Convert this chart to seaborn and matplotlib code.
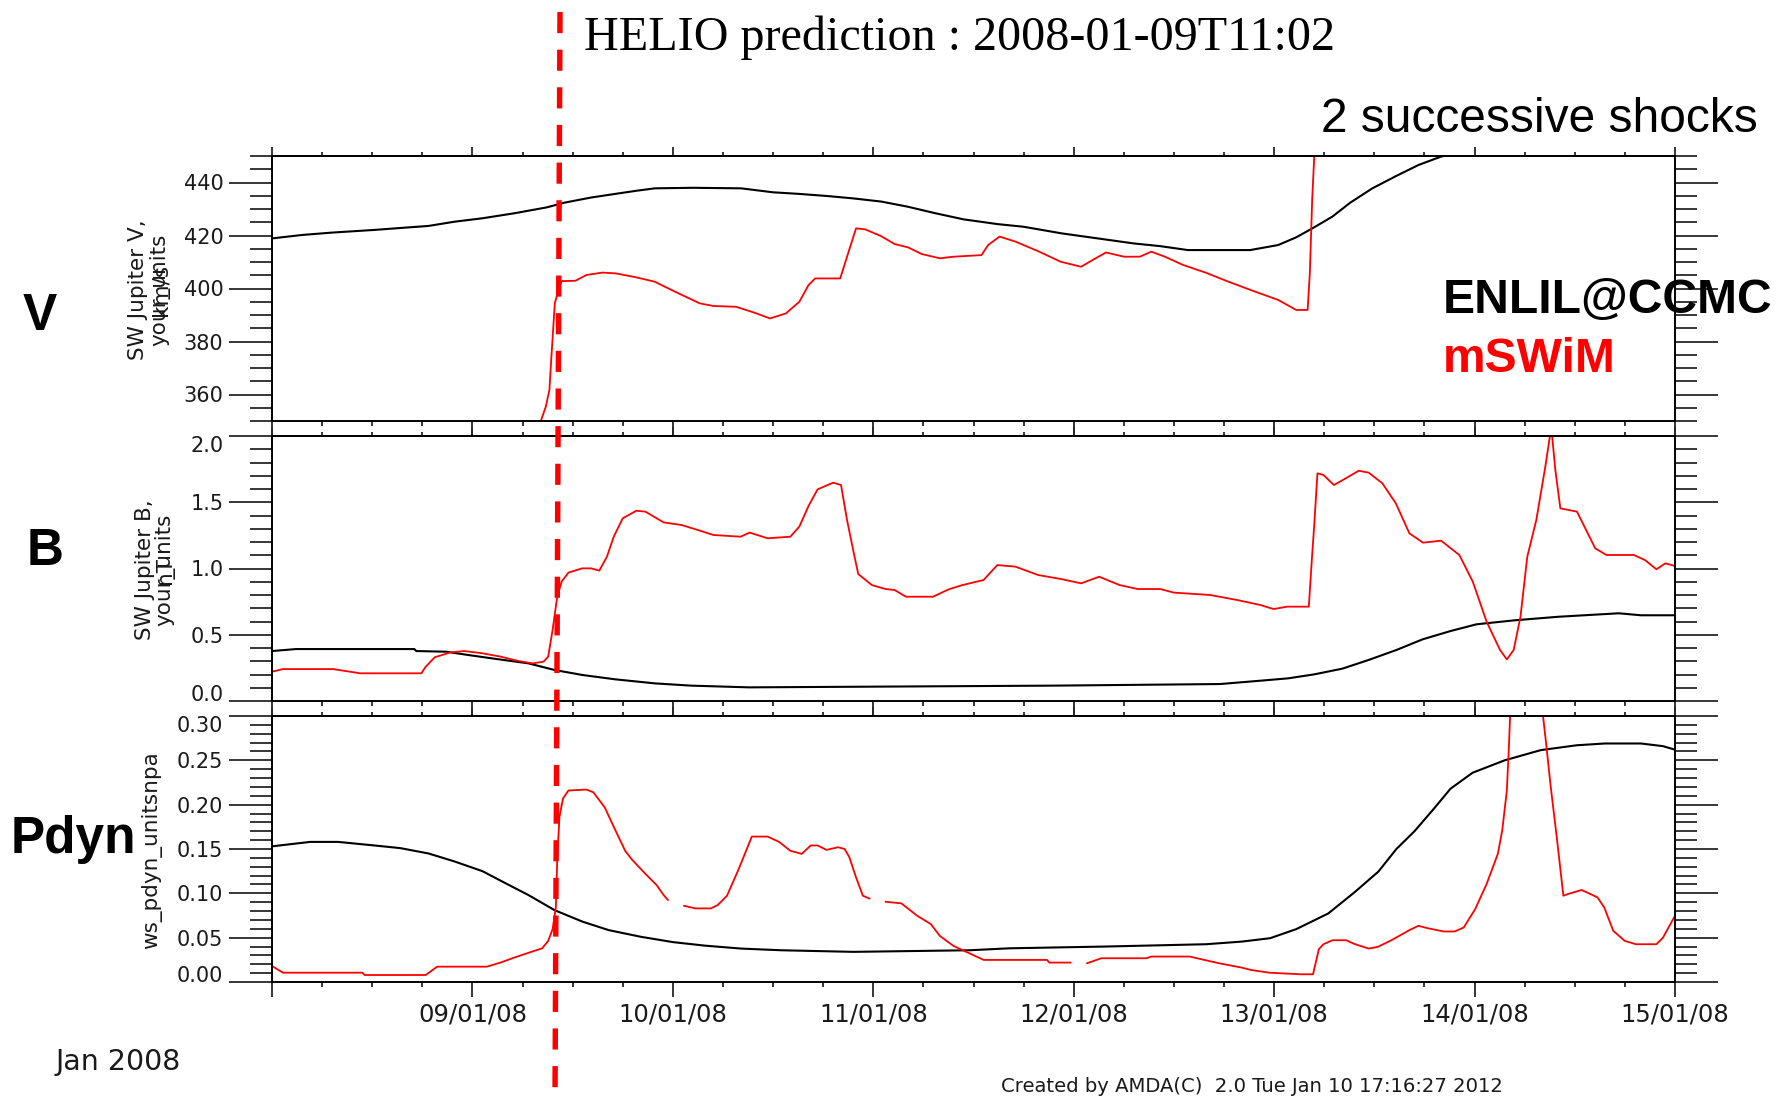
import numpy as np
import pandas as pd
import matplotlib
matplotlib.use("Agg")
import matplotlib.pyplot as plt
import seaborn as sns
from matplotlib.ticker import MultipleLocator, FixedLocator
from matplotlib.lines import Line2D

# ---------------------------------------------------------------------------
# Time axis: days since 2008-01-08 00:00 UT
# ---------------------------------------------------------------------------
day_ticks = [0, 1, 2, 3, 4, 5, 6, 7]
day_labels = ["", "09/01/08", "10/01/08", "11/01/08", "12/01/08",
              "13/01/08", "14/01/08", "15/01/08"]

# ENLIL@CCMC solar-wind speed (km/s)
enlil_v_t = [0.0, 0.15, 0.30, 0.51, 0.67, 0.78, 0.91, 1.05, 1.21, 1.37, 1.46,
             1.59, 1.73, 1.82, 1.91, 2.10, 2.34, 2.50, 2.63, 2.77, 2.90, 3.04,
             3.17, 3.31, 3.45, 3.62, 3.75, 3.94, 4.12, 4.30, 4.43, 4.57, 4.88,
             5.02, 5.11, 5.20, 5.29, 5.38, 5.49, 5.61, 5.72, 5.83, 5.95]
enlil_v = [418.9, 420.2, 421.1, 422.1, 423.0, 423.6, 425.2, 426.5, 428.4,
           430.6, 432.4, 434.3, 435.9, 436.9, 437.8, 438.0, 437.8, 436.3,
           435.7, 434.9, 434.0, 432.8, 430.9, 428.4, 426.1, 424.3, 423.3,
           420.8, 418.9, 417.0, 416.0, 414.5, 414.5, 416.4, 419.3, 423.1,
           427.1, 432.4, 437.8, 442.5, 446.6, 449.7, 452.0]

# mSWiM solar-wind speed (km/s)
mswim_v_t = [1.33, 1.343, 1.366, 1.384, 1.393, 1.402, 1.411, 1.429, 1.445,
             1.513, 1.569, 1.648, 1.716, 1.818, 1.908, 2.022, 2.134, 2.202,
             2.315, 2.406, 2.485, 2.564, 2.631, 2.677, 2.71, 2.835, 2.869,
             2.914, 2.96, 3.038, 3.106, 3.174, 3.242, 3.332, 3.40, 3.54,
             3.573, 3.63, 3.709, 3.822, 3.935, 4.037, 4.093, 4.161, 4.251,
             4.33, 4.387, 4.455, 4.545, 4.658, 4.771, 4.884, 5.02, 5.11,
             5.167, 5.178, 5.19, 5.20, 5.21]
mswim_v = [346.0, 350.4, 355.4, 361.7, 373.0, 383.7, 394.4, 399.4, 402.8,
           402.9, 405.1, 406.0, 405.7, 404.2, 402.6, 398.4, 394.4, 393.4,
           393.1, 390.9, 388.7, 390.6, 395.0, 401.3, 403.8, 403.8, 412.0,
           422.7, 422.3, 419.8, 416.8, 415.5, 413.0, 411.4, 412.0, 412.6,
           416.4, 419.6, 417.7, 414.1, 410.1, 408.2, 410.7, 413.6, 412.0,
           412.0, 413.9, 412.0, 408.9, 406.0, 402.6, 399.4, 395.7, 391.9,
           391.9, 405.7, 434.0, 449.7, 460.0]

# ENLIL@CCMC magnetic field (nT)
enlil_b_t = [0.0, 0.12, 0.71, 0.72, 0.87, 0.98, 1.12, 1.28, 1.41, 1.55, 1.71,
             1.91, 2.09, 2.38, 3.90, 4.73, 4.93, 5.07, 5.20, 5.34, 5.47, 5.61,
             5.74, 5.88, 6.01, 6.20, 6.42, 6.72, 6.83, 7.0]
enlil_b = [0.377, 0.392, 0.392, 0.377, 0.372, 0.347, 0.317, 0.284, 0.234,
           0.196, 0.164, 0.133, 0.116, 0.103, 0.116, 0.128, 0.153, 0.171,
           0.201, 0.244, 0.309, 0.385, 0.465, 0.528, 0.579, 0.609, 0.636,
           0.662, 0.647, 0.647]

# mSWiM magnetic field (nT)
mswim_b_t = [0.0, 0.055, 0.304, 0.44, 0.745, 0.767, 0.812, 0.891, 0.959, 1.05,
             1.14, 1.23, 1.30, 1.355, 1.378, 1.40, 1.423, 1.445, 1.479, 1.547,
             1.592, 1.633, 1.671, 1.705, 1.75, 1.818, 1.863, 1.954, 2.044,
             2.134, 2.202, 2.338, 2.383, 2.473, 2.586, 2.631, 2.677, 2.722,
             2.80, 2.839, 2.869, 2.903, 2.925, 2.993, 3.061, 3.106, 3.163,
             3.298, 3.377, 3.445, 3.55, 3.619, 3.709, 3.822, 3.935, 4.037,
             4.127, 4.229, 4.319, 4.432, 4.50, 4.681, 4.816, 4.93, 4.997,
             5.065, 5.173, 5.189, 5.20, 5.216, 5.246, 5.298, 5.358, 5.422,
             5.472, 5.54, 5.607, 5.675, 5.743, 5.833, 5.924, 5.991, 6.06,
             6.127, 6.161, 6.195, 6.229, 6.263, 6.308, 6.353, 6.376, 6.387,
             6.403, 6.428, 6.511, 6.602, 6.658, 6.794, 6.85, 6.907, 6.952,
             7.0]
mswim_b = [0.221, 0.241, 0.241, 0.209, 0.209, 0.259, 0.330, 0.367, 0.377,
           0.360, 0.335, 0.302, 0.284, 0.297, 0.335, 0.536, 0.787, 0.901,
           0.969, 1.001, 1.001, 0.984, 1.089, 1.240, 1.379, 1.436, 1.429,
           1.348, 1.328, 1.286, 1.253, 1.240, 1.271, 1.228, 1.240, 1.316,
           1.472, 1.597, 1.648, 1.630, 1.366, 1.114, 0.958, 0.875, 0.845,
           0.838, 0.787, 0.787, 0.843, 0.875, 0.913, 1.026, 1.014, 0.951,
           0.921, 0.888, 0.938, 0.875, 0.845, 0.845, 0.818, 0.800, 0.762,
           0.725, 0.694, 0.712, 0.712, 1.089, 1.328, 1.718, 1.706, 1.630,
           1.681, 1.738, 1.723, 1.643, 1.492, 1.265, 1.195, 1.210, 1.102,
           0.901, 0.599, 0.385, 0.314, 0.385, 0.636, 1.089, 1.366, 1.769,
           2.00, 2.00, 1.743, 1.454, 1.429, 1.152, 1.102, 1.102, 1.064,
           0.994, 1.039, 1.019]

# ENLIL@CCMC dynamic pressure (nPa)
enlil_p_t = [0.0, 0.19, 0.33, 0.51, 0.64, 0.78, 0.91, 1.05, 1.16, 1.28, 1.41,
             1.55, 1.68, 1.84, 2.00, 2.16, 2.34, 2.54, 2.90, 3.48, 3.68, 4.16,
             4.66, 4.84, 4.98, 5.11, 5.27, 5.40, 5.52, 5.61, 5.70, 5.79, 5.88,
             5.99, 6.15, 6.33, 6.51, 6.65, 6.83, 6.94, 7.0]
enlil_p = [0.153, 0.158, 0.158, 0.154, 0.151, 0.145, 0.136, 0.125, 0.112,
           0.098, 0.081, 0.068, 0.0585, 0.051, 0.045, 0.041, 0.0377, 0.0358,
           0.034, 0.0358, 0.038, 0.040, 0.0426, 0.0456, 0.0494, 0.0596,
           0.0773, 0.101, 0.1245, 0.150, 0.170, 0.1936, 0.218, 0.236, 0.250,
           0.2615, 0.267, 0.269, 0.269, 0.266, 0.262]

# mSWiM dynamic pressure (nPa); NaN marks data gaps
nan = float("nan")
mswim_p_t = [0.0, 0.055, 0.451, 0.462, 0.767, 0.824, 1.072, 1.14, 1.208,
             1.298, 1.348, 1.378, 1.40, 1.416, 1.423, 1.434, 1.452, 1.479,
             1.569, 1.603, 1.66, 1.705, 1.762, 1.796, 1.863, 1.92, 1.954,
             1.976, 2.01, 2.055, 2.112, 2.19, 2.225, 2.27, 2.326, 2.394, 2.473,
             2.53, 2.586, 2.643, 2.688, 2.722, 2.767, 2.824, 2.857, 2.88,
             2.914, 2.948, 2.982, 3.02, 3.061, 3.14, 3.219, 3.287, 3.332, 3.40,
             3.483, 3.551, 3.867, 3.878, 3.985, 4.02, 4.066, 4.138, 4.364,
             4.387, 4.579, 4.636, 4.726, 4.839, 4.884, 4.975, 5.133, 5.194,
             5.223, 5.246, 5.291, 5.359, 5.404, 5.472, 5.517, 5.585, 5.675,
             5.72, 5.765, 5.845, 5.901, 5.946, 6.003, 6.06, 6.116, 6.138,
             6.161, 6.172, 6.177, 6.22, 6.30, 6.342, 6.357, 6.38, 6.41, 6.443,
             6.466, 6.534, 6.613, 6.647, 6.692, 6.749, 6.805, 6.907, 6.94,
             6.986, 7.0]
mswim_p = [0.018, 0.0105, 0.0105, 0.0079, 0.0079, 0.0173, 0.0173, 0.0219,
           0.0275, 0.0343, 0.038, 0.0464, 0.0596, 0.084, 0.137, 0.186, 0.207,
           0.216, 0.217, 0.214, 0.197, 0.175, 0.148, 0.138, 0.122, 0.109,
           0.098, 0.0924, nan, 0.086, 0.083, 0.083, 0.087, 0.0973, 0.126,
           0.164, 0.164, 0.158, 0.148, 0.1445, 0.154, 0.154, 0.149, 0.152,
           0.150, 0.141, 0.118, 0.0973, 0.094, nan, 0.0905, 0.0887, 0.0747,
           0.0653, 0.052, 0.0407, 0.032, 0.0249, 0.0249, 0.0219, 0.0219, nan,
           0.0211, 0.0268, 0.0268, 0.0287, 0.0287, 0.0257, 0.0211, 0.0162,
           0.0136, 0.0105, 0.0087, 0.0087, 0.037, 0.0426, 0.0471, 0.0471,
           0.0426, 0.0377, 0.0396, 0.0471, 0.0585, 0.0634, 0.0607, 0.057,
           0.057, 0.0615, 0.0822, 0.1105, 0.1445, 0.171, 0.216, 0.269, 0.299,
           0.36, 0.36, 0.299, 0.269, 0.220, 0.1634, 0.0973, 0.0992, 0.1038,
           0.0955, 0.0841, 0.0577, 0.0464, 0.0426, 0.0426, 0.050, 0.069,
           0.0747]


def frame(t, v):
    """Long-form table; each run of finite values gets its own segment id."""
    t = np.asarray(t, float)
    v = np.asarray(v, float)
    seg = np.cumsum(np.isnan(v))
    df = pd.DataFrame({"t": t, "v": v, "seg": seg})
    return df.dropna().reset_index(drop=True)


sns.set_style("ticks")
plt.rcParams["font.family"] = ["DejaVu Sans"]
plt.rcParams["axes.linewidth"] = 1.4

W, H = 1784, 1101
fig = plt.figure(figsize=(W / 100, H / 100), dpi=100)
fig.patch.set_facecolor("white")


def fx(x):
    return x / W


def fy(y):
    return 1 - y / H


def panel_axes(top, bottom):
    return fig.add_axes([fx(272), fy(bottom), fx(1675) - fx(272),
                         fy(top) - fy(bottom)])


TICK_COL = "#1a1a1a"
RED = "#ff0000"


def draw_panel(ax, enlil, mswim, ylim, major, minor, fmt, show_xlabels,
               tuck_ends):
    sns.lineplot(data=enlil, x="t", y="v", units="seg", estimator=None,
                 color="black", lw=1.5, ax=ax, legend=False)
    sns.lineplot(data=mswim, x="t", y="v", units="seg", estimator=None,
                 color=RED, lw=1.3, ax=ax, legend=False)
    ax.set_xlim(0, 7)
    ax.set_ylim(*ylim)
    ax.set_xlabel("")
    ax.set_ylabel("")
    for s in ax.spines.values():
        s.set_visible(True)
        s.set_linewidth(1.4)
        s.set_color("black")

    ax.yaxis.set_major_locator(FixedLocator(major))
    ax.set_yticklabels([fmt.format(m) for m in major])
    ax.yaxis.set_minor_locator(MultipleLocator(minor))
    ax.tick_params(axis="y", which="major", direction="out", length=31,
                   width=1.3, left=True, right=True, labelsize=15,
                   labelcolor=TICK_COL, pad=4)
    ax.tick_params(axis="y", which="minor", direction="out", length=16,
                   width=1.3, left=True, right=True)
    if tuck_ends:
        # end labels sit inside the panel so neighbouring panels don't clash
        labels = ax.get_yticklabels()
        labels[0].set_verticalalignment("baseline")
        labels[-1].set_verticalalignment("top")

    ax.xaxis.set_major_locator(FixedLocator(day_ticks))
    ax.xaxis.set_minor_locator(MultipleLocator(0.25))
    ax.tick_params(axis="x", which="major", direction="out", length=10.5,
                   width=1.3, bottom=True, top=False, labelsize=17.5,
                   labelcolor=TICK_COL, pad=4)
    ax.tick_params(axis="x", which="minor", direction="out", length=3.6,
                   width=1.3, bottom=True, top=False)
    if show_xlabels:
        ax.set_xticklabels(day_labels)
    else:
        ax.set_xticklabels([])

    top = ax.secondary_xaxis("top")
    top.xaxis.set_major_locator(FixedLocator(day_ticks))
    top.xaxis.set_minor_locator(MultipleLocator(0.25))
    top.tick_params(axis="x", which="major", direction="out", length=6.5,
                    width=1.3, labeltop=False)
    top.tick_params(axis="x", which="minor", direction="out", length=3.2,
                    width=1.3)
    top.spines["top"].set_linewidth(1.4)


ax_v = panel_axes(156, 421)
ax_b = panel_axes(436, 701)
ax_p = panel_axes(716, 982)

draw_panel(ax_v, frame(enlil_v_t, enlil_v), frame(mswim_v_t, mswim_v),
           (350, 450), [360, 380, 400, 420, 440], 5, "{:.0f}", False, False)
draw_panel(ax_b, frame(enlil_b_t, enlil_b), frame(mswim_b_t, mswim_b),
           (0, 2.0), [0.0, 0.5, 1.0, 1.5, 2.0], 0.1, "{:.1f}", False, True)
draw_panel(ax_p, frame(enlil_p_t, enlil_p), frame(mswim_p_t, mswim_p),
           (0, 0.30), [0.0, 0.05, 0.10, 0.15, 0.20, 0.25, 0.30], 0.01,
           "{:.2f}", True, True)

# Rotated axis titles (second line over-printed with the unit)
ylab = dict(rotation=90, ha="center", va="center", fontsize=15.5,
            color=TICK_COL)
fig.text(fx(138), fy(290), "SW Jupiter V,", **ylab)
fig.text(fx(160), fy(290), "your_units", **ylab)
fig.text(fx(160), fy(290), "km/s", **ylab)
fig.text(fx(145), fy(570), "SW Jupiter B,", **ylab)
fig.text(fx(165), fy(570), "your_units", **ylab)
fig.text(fx(165), fy(570), "nT", **ylab)
fig.text(fx(152), fy(850), "ws_pdyn_unitsnpa", **ylab)

# Panel names
big = dict(family="Liberation Sans", fontweight="bold", fontsize=37,
           ha="left", va="baseline", color="black")
fig.text(fx(23), fy(330), "V", **big)
fig.text(fx(27), fy(565), "B", **big)
fig.text(fx(11), fy(853), "Pdyn", **big)

# Model legend
leg = dict(family="Liberation Sans", fontweight="bold", fontsize=34.6,
           ha="left", va="baseline")
fig.text(fx(1443), fy(313), "ENLIL@CCMC", color="black", **leg)
fig.text(fx(1443), fy(372), "mSWiM", color=RED, **leg)

# Annotations
fig.text(fx(584), fy(50), "HELIO prediction : 2008-01-09T11:02",
         family="Liberation Serif", fontsize=34.7, ha="left", va="baseline",
         color="black")
fig.text(fx(1758), fy(132), "2 successive shocks", family="Liberation Sans",
         fontsize=34.5, ha="right", va="baseline", color="black")

fig.text(fx(55), fy(1070), "Jan 2008", fontsize=20.5, ha="left",
         va="baseline", color=TICK_COL)
fig.text(fx(1001), fy(1092), "Created by AMDA(C)  2.0 Tue Jan 10 17:16:27 2012",
         fontsize=14.1, ha="left", va="baseline", color=TICK_COL)

# Predicted arrival time marker spanning the whole figure
marker = Line2D([fx(560), fx(555)], [fy(12), fy(1101)],
                transform=fig.transFigure, color=RED, lw=3.9,
                dashes=(3.9, 3.05), solid_capstyle="butt",
                dash_capstyle="butt", zorder=10)
fig.add_artist(marker)

fig.savefig("out.png", dpi=100, facecolor="white")
